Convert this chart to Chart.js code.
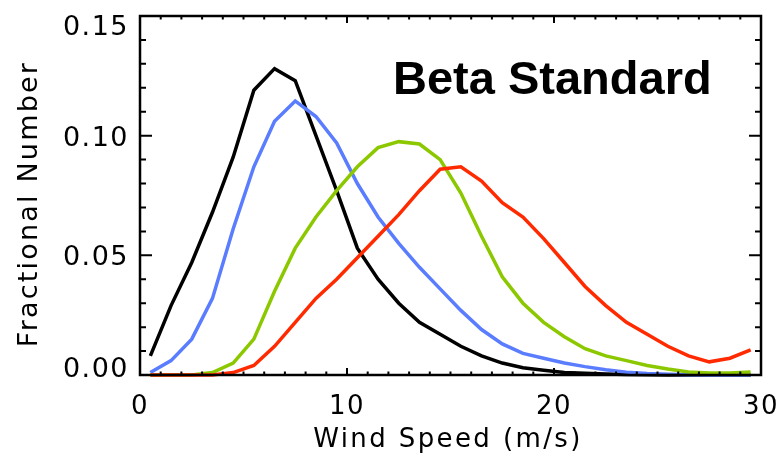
<!DOCTYPE html>
<html>
<head>
<meta charset="utf-8">
<script src="https://cdn.jsdelivr.net/npm/chart.js@4/dist/chart.umd.min.js"></script>
<style>
  html, body { margin: 0; padding: 0; background: #fff; }
  canvas { display: block; }
</style>
</head>
<body>
<canvas id="chart" width="780" height="456"></canvas>
<script>
// wind speed bin centres (m/s)
const speeds = [0.5, 1.5, 2.5, 3.5, 4.5, 5.5, 6.5, 7.5, 8.5, 9.5,
  10.5, 11.5, 12.5, 13.5, 14.5, 15.5, 16.5, 17.5, 18.5, 19.5,
  20.5, 21.5, 22.5, 23.5, 24.5, 25.5, 26.5, 27.5, 28.5, 29.5];

const blackSeries = [0.008, 0.029, 0.047, 0.068, 0.091, 0.119, 0.128, 0.123, 0.100, 0.077,
  0.053, 0.040, 0.030, 0.022, 0.017, 0.012, 0.008, 0.005, 0.003, 0.002,
  0.001, 0.0007, 0.0004, 0.0002, 0.0001, 0, 0, 0, 0, 0];

const blueSeries = [0.001, 0.006, 0.015, 0.032, 0.061, 0.087, 0.106, 0.1145, 0.108, 0.097,
  0.080, 0.066, 0.055, 0.045, 0.036, 0.027, 0.019, 0.013, 0.009, 0.007,
  0.005, 0.0035, 0.0022, 0.0012, 0.0006, 0.0003, 0.0001, 0, 0, 0];

const greenSeries = [0, 0, 0, 0.001, 0.005, 0.015, 0.035, 0.053, 0.066, 0.077,
  0.087, 0.095, 0.0975, 0.0965, 0.090, 0.076, 0.058, 0.041, 0.030, 0.022,
  0.016, 0.011, 0.008, 0.006, 0.004, 0.0025, 0.0013, 0.0008, 0.0008, 0.0013];

const redSeries = [0, 0, 0, 0, 0.001, 0.004, 0.012, 0.022, 0.032, 0.040,
  0.049, 0.058, 0.067, 0.077, 0.086, 0.087, 0.081, 0.072, 0.066, 0.057,
  0.047, 0.037, 0.029, 0.022, 0.017, 0.012, 0.008, 0.0055, 0.007, 0.0105];

const xTicks = [0, 10, 20, 30];
const yTicks = [0.00, 0.05, 0.10, 0.15];

const xTitle = 'Wind Speed (m/s)';
const yTitle = 'Fractional Number';
const label = 'Beta Standard';

const FONT = '"DejaVu Sans", sans-serif';

function points(ys) {
  return speeds.map((x, i) => ({ x: x, y: ys[i] }));
}

function line(ys, color, order) {
  return {
    data: points(ys),
    borderColor: color,
    borderWidth: 3.5,
    pointRadius: 0,
    tension: 0,
    clip: false,
    order: order,
  };
}

// IDL style box with inward ticks on all sides, axis labels, titles and the label
const frame = {
  id: 'frame',
  beforeDraw(chart) {
    // the IDL vector font is wide, so space the tick labels out a bit
    chart.ctx.letterSpacing = '1.5px';
  },
  afterDatasetsDraw(chart) {
    const { ctx, chartArea: a } = chart;
    const xs = chart.scales.x;
    const ys = chart.scales.y;
    ctx.save();
    ctx.strokeStyle = '#000';
    ctx.lineWidth = 2.5;
    ctx.strokeRect(a.left, a.top, a.right - a.left, a.bottom - a.top);

    ctx.lineWidth = 2;
    ctx.beginPath();
    for (let v = 0; v <= 30; v++) {
      const px = xs.getPixelForValue(v);
      const len = v % 10 === 0 ? 7 : 3.5;
      ctx.moveTo(px, a.bottom); ctx.lineTo(px, a.bottom - len);
      ctx.moveTo(px, a.top); ctx.lineTo(px, a.top + len);
    }
    for (let k = 0; k <= 15; k++) {
      const py = ys.getPixelForValue(k / 100);
      const len = k % 5 === 0 ? 12 : 6;
      ctx.moveTo(a.left, py); ctx.lineTo(a.left + len, py);
      ctx.moveTo(a.right, py); ctx.lineTo(a.right - len, py);
    }
    ctx.stroke();

    ctx.fillStyle = '#000';
    ctx.textBaseline = 'alphabetic';

    // y tick labels: end labels pulled inside the axis range, like IDL does
    ctx.font = '27px ' + FONT;
    ctx.textAlign = 'right';
    yTicks.forEach((v, i) => {
      const py = ys.getPixelForValue(v);
      let off = 10;
      if (i === 0) off = 2;
      if (i === yTicks.length - 1) off = 19;
      ctx.fillText(v.toFixed(2), a.left - 11, py + off);
    });

    ctx.letterSpacing = '2.4px';
    ctx.font = '26px ' + FONT;
    ctx.textAlign = 'center';
    ctx.fillText(xTitle, 448, 447);

    ctx.save();
    ctx.translate(37, 204);
    ctx.rotate(-Math.PI / 2);
    ctx.font = '27px ' + FONT;
    ctx.letterSpacing = '2.2px';
    ctx.fillText(yTitle, 0, 0);
    ctx.restore();

    ctx.letterSpacing = '0px';
    ctx.font = 'bold 47px "Liberation Sans", Arial, sans-serif';
    ctx.textAlign = 'left';
    ctx.fillText(label, a.left + 253, a.top + 78);
    ctx.restore();
  },
};

new Chart(document.getElementById('chart'), {
  type: 'line',
  data: {
    datasets: [
      line(blackSeries, '#000000', 3),
      line(blueSeries, '#5a7cff', 2),
      line(greenSeries, '#8cc800', 1),
      line(redSeries, '#ff2a00', 0),
    ],
  },
  options: {
    responsive: false,
    animation: false,
    layout: { padding: { left: 0, top: 16, right: 19, bottom: 0 } },
    plugins: {
      legend: { display: false },
      tooltip: { enabled: false },
    },
    scales: {
      x: {
        type: 'linear',
        min: 0,
        max: 30,
        afterBuildTicks(scale) {
          scale.ticks = xTicks.map(v => ({ value: v }));
        },
        afterFit(scale) {
          scale.height = 81;
          scale.paddingLeft = 0;
          scale.paddingRight = 0;
        },
        grid: { display: false, drawTicks: false },
        border: { display: false },
        ticks: {
          color: '#000',
          padding: 17,
          maxRotation: 0,
          font: { family: FONT, size: 26 },
          callback: v => String(v),
        },
      },
      y: {
        type: 'linear',
        min: 0,
        max: 0.15,
        afterBuildTicks(scale) {
          scale.ticks = yTicks.map(v => ({ value: v }));
        },
        afterFit(scale) {
          scale.width = 140;
          scale.paddingTop = 0;
          scale.paddingBottom = 0;
        },
        grid: { display: false, drawTicks: false },
        border: { display: false },
        ticks: { display: false },
      },
    },
  },
  plugins: [frame],
});
</script>
</body>
</html>
